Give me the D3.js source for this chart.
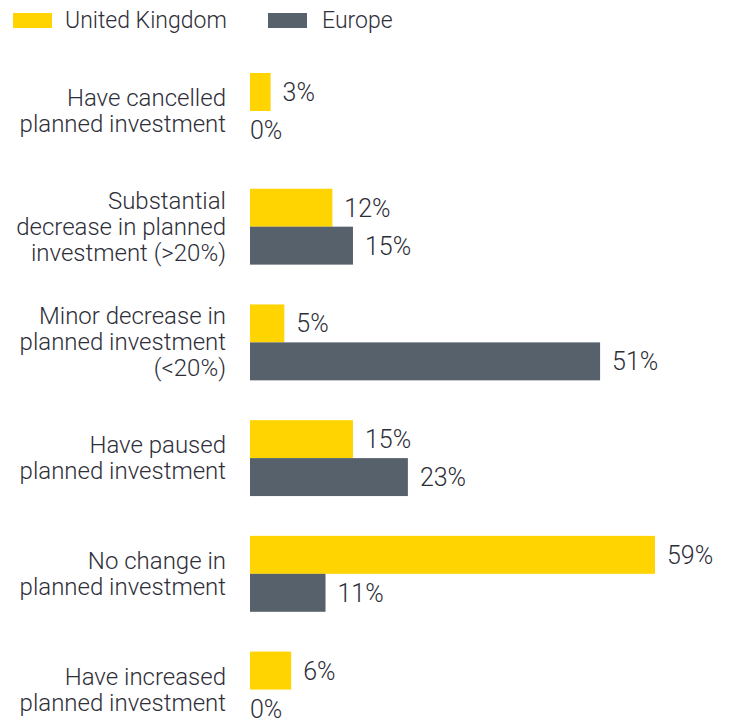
<!DOCTYPE html>
<html>
<head>
<meta charset="utf-8">
<script src="https://cdn.jsdelivr.net/npm/d3@7"></script>
<style>
  body { margin: 0; background: #fff; }
  text { font-family: Roboto, "Noto Sans", sans-serif; font-weight: 300; fill: #2e2e38; }
</style>
</head>
<body>
<script>
// data
let categories = [
  ["Have cancelled", "planned investment"],
  ["Substantial", "decrease in planned", "investment (>20%)"],
  ["Minor decrease in", "planned investment", "(<20%)"],
  ["Have paused", "planned investment"],
  ["No change in", "planned investment"],
  ["Have increased", "planned investment"]
];
let series = ["United Kingdom", "Europe"];
let ukValues = [3, 12, 5, 15, 59, 6];
let europeValues = [0, 15, 51, 23, 11, 0];
let colours = ["#ffd400", "#56616c"];

let w = 732;
let h = 724;

let svg = d3.select("body")
  .append("svg")
    .attr("width", w)
    .attr("height", h);

let keys = categories.map(c => c.join(" "));

let x = d3.scaleLinear()
  .domain([0, 59])
  .range([250, 655]);

let y = d3.scaleBand()
  .domain(keys)
  .range([73, 727.5])
  .paddingInner(0.344)
  .paddingOuter(0);

let ySub = d3.scaleBand()
  .domain(series)
  .range([0, y.bandwidth()]);

let colour = d3.scaleOrdinal()
  .domain(series)
  .range(colours);

// legend
let legend = svg.append("g").attr("id", "legend");
let legendX = [13, 268];
let legendTextX = [65, 322];
series.forEach((s, i) => {
  legend.append("rect")
    .attr("x", legendX[i])
    .attr("y", 13)
    .attr("width", 39)
    .attr("height", 15)
    .attr("fill", colour(s));
  legend.append("text")
    .attr("x", legendTextX[i])
    .attr("y", 28)
    .attr("font-size", 23)
    .text(s);
});

// groups
let rows = keys.map((k, i) => ({
  key: k,
  lines: categories[i],
  values: [ukValues[i], europeValues[i]]
}));

let groups = svg.selectAll("g.row")
  .data(rows)
  .join("g")
    .attr("class", "row")
    .attr("transform", d => "translate(0," + y(d.key) + ")");

// category labels
groups.append("text")
  .attr("x", 226)
  .attr("text-anchor", "end")
  .attr("font-size", 24)
  .each(function(d) {
    let n = d.lines.length;
    let mid = y.bandwidth() / 2;
    d3.select(this).selectAll("tspan")
      .data(d.lines)
      .join("tspan")
        .attr("x", 226)
        .attr("y", (l, j) => mid + (j - (n - 1) / 2) * 26 + 8)
        .text(l => l);
  });

// bars + values
groups.each(function(d) {
  let g = d3.select(this);
  series.forEach((s, j) => {
    let v = d.values[j];
    g.append("rect")
      .attr("x", x(0))
      .attr("y", ySub(s))
      .attr("width", x(v) - x(0))
      .attr("height", ySub.bandwidth())
      .attr("fill", colour(s));
    g.append("text")
      .attr("x", v > 0 ? x(v) + 12 : x(0))
      .attr("y", ySub(s) + ySub.bandwidth() / 2 + 9)
      .attr("font-size", 25)
      .text(v + "%");
  });
});
</script>
</body>
</html>
